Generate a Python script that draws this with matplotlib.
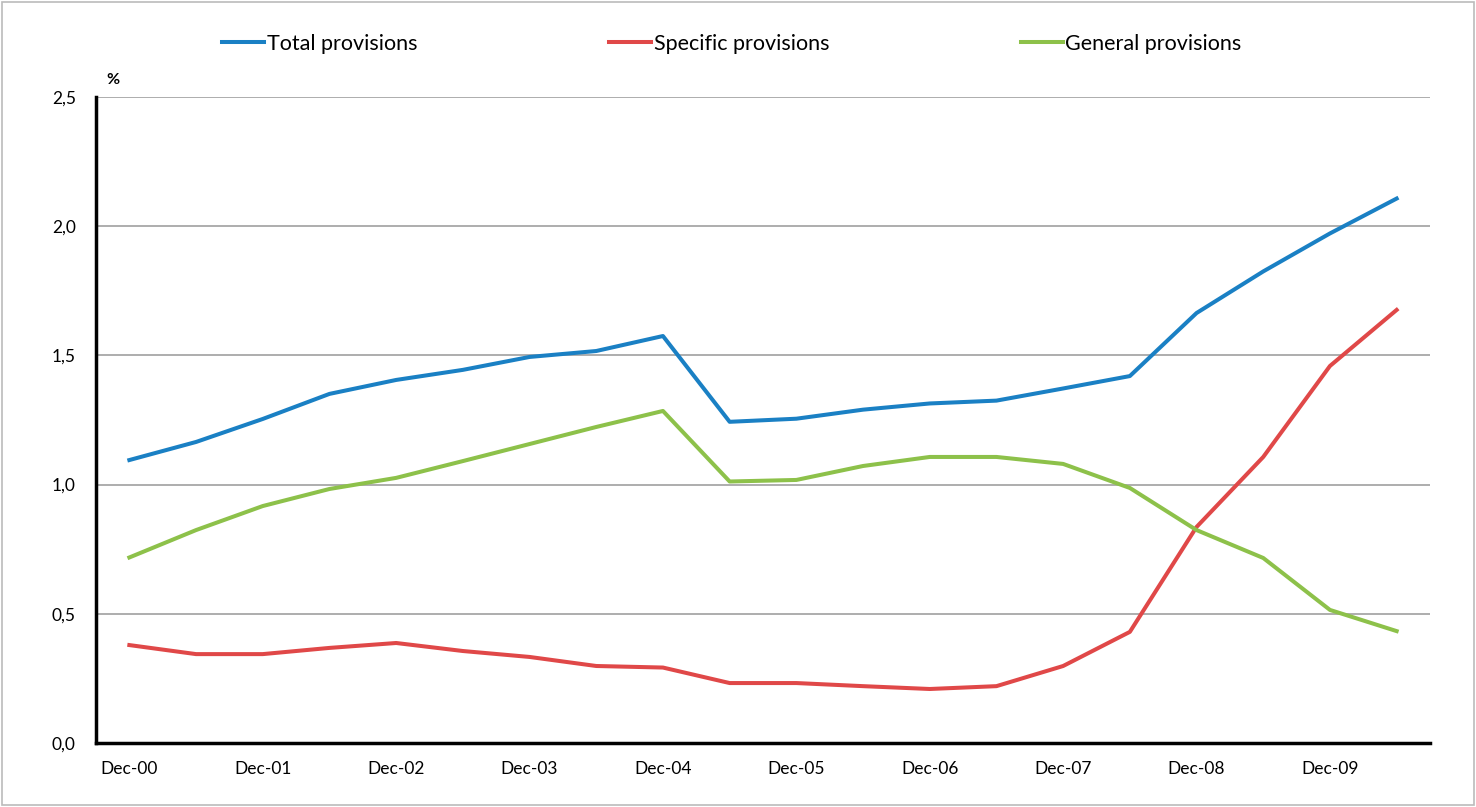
import numpy as np
import matplotlib.pyplot as plt
from matplotlib.patches import Rectangle

plt.rcParams['font.family'] = ['Lato', 'DejaVu Sans']

# semi-annual observations, Dec-00 .. Jun-10
periods = ["Dec-00", "Jun-01", "Dec-01", "Jun-02", "Dec-02", "Jun-03", "Dec-03", "Jun-04",
           "Dec-04", "Jun-05", "Dec-05", "Jun-06", "Dec-06", "Jun-07", "Dec-07", "Jun-08",
           "Dec-08", "Jun-09", "Dec-09", "Jun-10"]
total = [1.095, 1.165, 1.254, 1.351, 1.405, 1.444, 1.494, 1.517, 1.575, 1.243,
         1.255, 1.290, 1.314, 1.325, 1.372, 1.420, 1.664, 1.825, 1.972, 2.107]
specific = [0.379, 0.344, 0.344, 0.368, 0.387, 0.356, 0.333, 0.298, 0.292, 0.232,
            0.232, 0.220, 0.209, 0.220, 0.298, 0.430, 0.836, 1.107, 1.459, 1.676]
general = [0.718, 0.824, 0.917, 0.983, 1.026, 1.091, 1.157, 1.223, 1.285, 1.012,
           1.018, 1.072, 1.107, 1.107, 1.080, 0.987, 0.824, 0.716, 0.515, 0.433]
yticks = [0.0, 0.5, 1.0, 1.5, 2.0, 2.5]

fig = plt.figure(figsize=(14.76, 8.07), dpi=100)
ax = fig.add_axes([96/1476, 1-743/807, (1430-96)/1476, (743-97)/807])

x = np.arange(len(periods))
ax.plot(x, total, color="#1A80C4", lw=2.9, label="Total provisions")
ax.plot(x, specific, color="#E04848", lw=2.9, label="Specific provisions")
ax.plot(x, general, color="#8DC14A", lw=2.9, label="General provisions")

ax.set_xlim(-0.5, len(periods) - 0.5)
ax.set_ylim(0, 2.5)
ax.set_yticks(yticks)
ax.set_yticklabels([f"{v:.1f}".replace(".", ",") for v in yticks], fontsize=12.5)
ax.set_xticks(x[::2])
ax.set_xticklabels(periods[::2], fontsize=12.5)
ax.tick_params(length=0)
ax.tick_params(axis="x", pad=13)
ax.tick_params(axis="y", pad=14.5)
ax.grid(axis="y", color="#A0A0A0", lw=1.2)
ax.set_axisbelow(True)
for s in ["top", "right"]:
    ax.spines[s].set_visible(False)
ax.spines["left"].set_linewidth(2.5)
ax.spines["bottom"].set_linewidth(2.5)

ax.text(-0.25, 2.565, "%", fontsize=11.5, fontweight="bold", ha="center", va="center")

fig.legend(loc="center", bbox_to_anchor=(732/1476, 1-44/807), ncol=3, frameon=False,
           fontsize=15.5, handlelength=1.95, handletextpad=0.12, columnspacing=8.9)

fig.patches.append(Rectangle((2/1476, 2/807), 1472/1476, 803/807, transform=fig.transFigure,
                             fill=False, edgecolor="#BBBBBB", lw=1.2))

fig.savefig("out.png", dpi=100)
